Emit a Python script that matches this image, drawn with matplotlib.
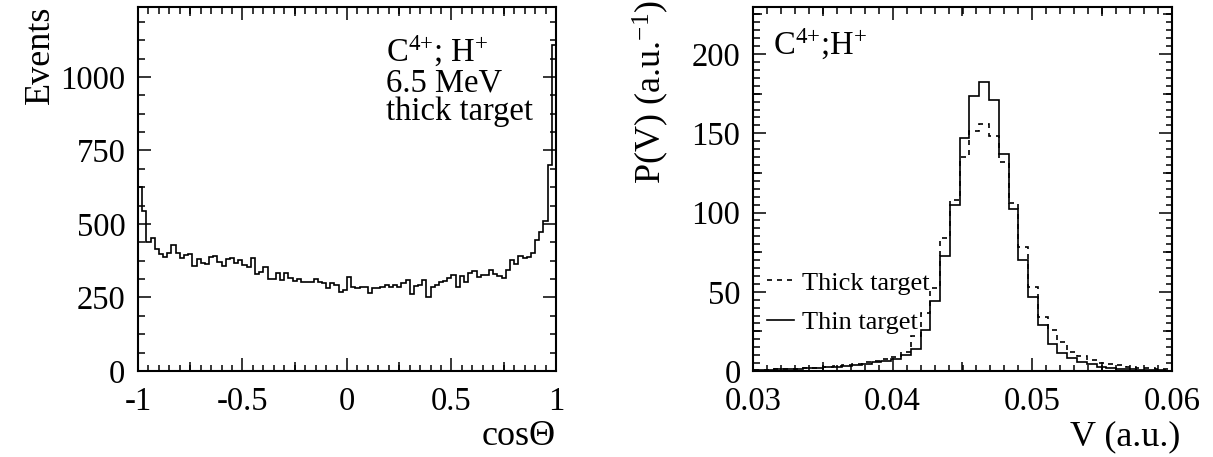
import numpy as np
import matplotlib
matplotlib.use("Agg")
import matplotlib.pyplot as plt

plt.rcParams["font.family"] = ["Liberation Serif", "DejaVu Serif"]
plt.rcParams["mathtext.fontset"] = "custom"
plt.rcParams["mathtext.rm"] = "Liberation Serif"
plt.rcParams["mathtext.default"] = "regular"
plt.rcParams["axes.unicode_minus"] = False

# angular distribution, 100 bins over [-1, 1]
cos_counts = [
    625, 545, 440, 451, 415, 398, 387, 400, 428, 400,
    383, 394, 398, 357, 380, 368, 364, 387, 391, 370,
    357, 380, 383, 368, 378, 360, 355, 383, 330, 338,
    353, 312, 312, 333, 310, 333, 315, 305, 312, 304,
    301, 301, 312, 301, 298, 281, 300, 292, 270, 275,
    321, 287, 281, 287, 285, 266, 281, 281, 285, 292,
    287, 292, 287, 298, 310, 262, 289, 292, 310, 253,
    287, 292, 304, 307, 318, 327, 287, 323, 304, 334,
    341, 321, 327, 327, 345, 329, 323, 318, 345, 377,
    364, 391, 383, 387, 400, 446, 474, 510, 700, 1110,
]
cos_xticks = [-1, -0.5, 0, 0.5, 1]
cos_xticklabels = ["-1", "-0.5", "0", "0.5", "1"]
cos_yticks = [0, 250, 500, 750, 1000]

# velocity distributions, bins of width 0.0007 starting at bin index 42
v_bin_width = 0.0007
v_first_bin = 42
v_thin = [
    0.7, 0.8, 0.9, 1.0, 1.2, 1.4, 1.6, 1.9, 2.3, 2.7,
    3.2, 3.8, 4.6, 5.6, 6.6, 7.8, 10.2, 13.9, 25.9, 44.2,
    72.6, 104.9, 146.8, 173.5, 182.5, 171.0, 136.7, 102.2, 70.0, 46.9,
    29.0, 17.0, 11.6, 8.0, 5.9, 4.2, 2.7, 2.1, 1.5, 1.1,
    0.8, 0.6, 0.4, 0.3, 0.2,
]
v_thick = [
    0.6, 0.7, 0.8, 1.0, 1.2, 1.5, 1.8, 2.2, 2.6, 3.0,
    3.5, 4.5, 5.5, 6.5, 7.5, 9.0, 12.2, 22.3, 36.4, 52.2,
    84.1, 108.1, 135.2, 151.6, 155.6, 148.3, 131.7, 105.8, 78.0, 53.2,
    34.3, 25.9, 18.3, 12.2, 9.5, 6.9, 5.2, 4.2, 3.8, 2.7,
    2.2, 1.8, 1.4, 1.0, 0.8,
]
v_labels = ["Thick target", "Thin target"]
v_xticks = [0.03, 0.04, 0.05, 0.06]
v_xticklabels = ["0.03", "0.04", "0.05", "0.06"]
v_yticks = [0, 50, 100, 150, 200]

W, H = 1213, 457
fig = plt.figure(figsize=(W / 100, H / 100), dpi=100)
ax1 = fig.add_axes([138 / W, 86 / H, 418 / W, 364 / H])
ax2 = fig.add_axes([753 / W, 86 / H, 419 / W, 364 / H])

FS = 23.5


def root_frame(ax, major_len=13, minor_len=6.5):
    for s in ax.spines.values():
        s.set_linewidth(1.5)
    ax.tick_params(which="both", direction="in", top=True, right=True,
                   width=1.1, labelsize=FS, pad=9)
    ax.tick_params(axis="x", which="both", pad=11)
    ax.tick_params(which="major", length=major_len * 0.72)
    ax.tick_params(which="minor", length=minor_len * 0.72)


def medium_ticks(ax, xs, ys, length=9):
    # third tick level as in ROOT axes
    for side in ("bottom", "top"):
        sec = ax.secondary_xaxis(side)
        sec.set_xticks(xs)
        sec.xaxis.set_minor_locator(matplotlib.ticker.NullLocator())
        sec.tick_params(direction="in", length=length * 0.72, width=1.1,
                        labelbottom=False, labeltop=False)
        for s in sec.spines.values():
            s.set_visible(False)
    for side in ("left", "right"):
        sec = ax.secondary_yaxis(side)
        sec.set_yticks(ys)
        sec.yaxis.set_minor_locator(matplotlib.ticker.NullLocator())
        sec.tick_params(direction="in", length=length * 0.72, width=1.1,
                        labelleft=False, labelright=False)
        for s in sec.spines.values():
            s.set_visible(False)


# left panel
edges = np.linspace(-1, 1, len(cos_counts) + 1)
ax1.stairs(cos_counts, edges, color="black", linewidth=1.2)
ax1.set_xlim(-1, 1)
ax1.set_ylim(0, 1238)
ax1.set_xticks(cos_xticks)
ax1.set_xticklabels(cos_xticklabels)
ax1.set_xticks(np.arange(-1, 1.001, 0.05), minor=True)
ax1.set_yticks(cos_yticks)
ax1.set_yticks(np.arange(0, 1238, 62.5), minor=True)
root_frame(ax1)
medium_ticks(ax1, [-0.75, -0.25, 0.25, 0.75], [])
ax1.text(-0.234, 1.005, "Events", rotation=90, ha="center", va="top",
         fontsize=26, transform=ax1.transAxes)
ax1.text(1.0, -0.18, "cosΘ", ha="right", va="center", fontsize=26,
         transform=ax1.transAxes)
ax1.text(0.593, 0.85, "C$^{4{+}}$; H$^{{+}}$", fontsize=FS, va="baseline",
         transform=ax1.transAxes)
ax1.text(0.593, 0.768, "6.5 MeV", fontsize=FS, va="baseline",
         transform=ax1.transAxes)
ax1.text(0.593, 0.69, "thick target", fontsize=FS, va="baseline",
         transform=ax1.transAxes)

# right panel
v_edges = (np.arange(len(v_thin) + 1) + v_first_bin) * v_bin_width
ax2.stairs(v_thick, v_edges, color="black", linewidth=1.2,
           linestyle=(0, (3, 3)), label=v_labels[0])
ax2.stairs(v_thin, v_edges, color="black", linewidth=1.2, label=v_labels[1])
ax2.set_xlim(0.03, 0.06)
ax2.set_ylim(0, 229.7)
ax2.set_xticks(v_xticks)
ax2.set_xticklabels(v_xticklabels)
ax2.set_xticks(np.arange(0.03, 0.0601, 0.001), minor=True)
ax2.set_yticks(v_yticks)
ax2.set_yticks(np.arange(0, 230, 5), minor=True)
root_frame(ax2)
medium_ticks(ax2, [0.035, 0.045, 0.055], [25, 75, 125, 175, 225])
ax2.text(-0.245, 1.02, "P(V) (a.u.$^{-1}$)", rotation=90, ha="center",
         va="top", fontsize=26, transform=ax2.transAxes)
ax2.text(1.019, -0.18, "V (a.u.)", ha="right", va="center", fontsize=26,
         transform=ax2.transAxes)
ax2.text(0.048, 0.868, "C$^{4{+}}$;H$^{{+}}$", fontsize=FS, va="baseline",
         transform=ax2.transAxes)
ax2.legend(loc="upper left", bbox_to_anchor=(-0.01, 0.325), frameon=False,
           fontsize=19, handlelength=1.0, handletextpad=0.3,
           labelspacing=0.6, borderpad=0.2)

fig.savefig("out.png", dpi=100)
